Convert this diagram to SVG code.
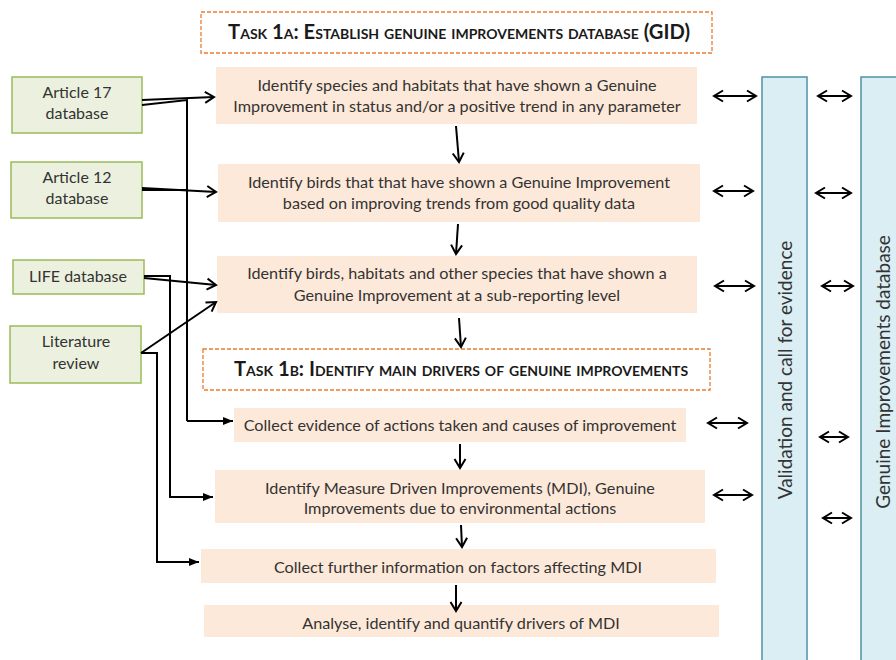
<svg xmlns="http://www.w3.org/2000/svg" width="896" height="660" viewBox="0 0 896 660">
<style>
.bg{fill:#ffffff}
.task{fill:#ffffff;stroke:#ec7c30;stroke-width:1.3;stroke-dasharray:4 2}
.step{fill:#fde9d9;stroke:none}
.src{fill:#ebf1de;stroke:#9bbb59;stroke-width:1.5}
.bar{fill:#daeef3;stroke:#4f93a6;stroke-width:1.5}
.t{font-family:Lato,"Liberation Sans",sans-serif;font-size:16.2px;fill:#333333;text-anchor:middle}
.ts{font-family:Lato,"Liberation Sans",sans-serif;font-size:16px;fill:#333333;text-anchor:middle}
.th{font-family:Lato,"Liberation Sans",sans-serif;font-size:20.2px;font-weight:bold;font-variant:small-caps;fill:#1a1a1a;text-anchor:middle}
.tr{font-family:Lato,"Liberation Sans",sans-serif;font-size:19px;fill:#333333;text-anchor:middle}
.c{fill:none;stroke:#000000;stroke-width:2}
.o{marker-end:url(#open)}
.f{marker-end:url(#fill)}
.d{marker-start:url(#open);marker-end:url(#open)}
</style>
<defs>
<marker id="open" markerUnits="userSpaceOnUse" markerWidth="14" markerHeight="14" viewBox="0 0 14 14" refX="12" refY="7" orient="auto-start-reverse">
<path d="M3,1.5 L12,7 L3,12.5" fill="none" stroke="#000" stroke-width="2"/>
</marker>
<marker id="fill" markerUnits="userSpaceOnUse" markerWidth="12" markerHeight="12" viewBox="0 0 12 12" refX="11" refY="6" orient="auto">
<path d="M1,2 L11,6 L1,10 z" fill="#000"/>
</marker>
</defs>
<rect class="bg" x="0" y="0" width="896" height="660"/>

<g id="task1a">
<rect class="task" x="201" y="12" width="511" height="41"/>
<text class="th" x="459" y="39">Task 1a: Establish genuine improvements database (GID)</text>
</g>
<g id="step1">
<rect class="step" x="216" y="67" width="481" height="57"/>
<text class="t" x="457" y="91">Identify species and habitats that have shown a Genuine</text>
<text class="t" x="457" y="112">Improvement in status and/or a positive trend in any parameter</text>
</g>
<g id="step2">
<rect class="step" x="218" y="164" width="482" height="58"/>
<text class="t" x="459" y="188">Identify birds that that have shown a Genuine Improvement</text>
<text class="t" x="459" y="209">based on improving trends from good quality data</text>
</g>
<g id="step3">
<rect class="step" x="217" y="256" width="480" height="57"/>
<text class="t" x="457" y="279">Identify birds, habitats and other species that have shown a</text>
<text class="t" x="457" y="301">Genuine Improvement at a sub-reporting level</text>
</g>
<g id="task1b">
<rect class="task" x="203" y="349" width="507" height="41"/>
<text class="th" x="461" y="376">Task 1b: Identify main drivers of genuine improvements</text>
</g>
<g id="step4">
<rect class="step" x="234" y="408" width="452" height="34"/>
<text class="t" x="460" y="431">Collect evidence of actions taken and causes of improvement</text>
</g>
<g id="step5">
<rect class="step" x="215" y="470" width="490" height="53"/>
<text class="t" x="460" y="494">Identify Measure Driven Improvements (MDI), Genuine</text>
<text class="t" x="460" y="514">Improvements due to environmental actions</text>
</g>
<g id="step6">
<rect class="step" x="201" y="549" width="515" height="34"/>
<text class="t" x="458" y="573">Collect further information on factors affecting MDI</text>
</g>
<g id="step7">
<rect class="step" x="204" y="605" width="515" height="32"/>
<text class="t" x="461" y="629">Analyse, identify and quantify drivers of MDI</text>
</g>

<g id="art17">
<rect class="src" x="12" y="77" width="130" height="56"/>
<text class="ts" x="77" y="98">Article 17</text>
<text class="ts" x="77" y="119">database</text>
</g>
<g id="art12">
<rect class="src" x="11" y="162" width="131" height="56"/>
<text class="ts" x="77" y="183">Article 12</text>
<text class="ts" x="77" y="204">database</text>
</g>
<g id="life">
<rect class="src" x="13" y="260" width="131" height="34"/>
<text class="ts" x="78" y="282">LIFE database</text>
</g>
<g id="lit">
<rect class="src" x="10" y="326" width="131" height="57"/>
<text class="ts" x="76" y="347">Literature</text>
<text class="ts" x="76" y="369">review</text>
</g>

<g id="validation">
<rect class="bar" x="762" y="77" width="45" height="590"/>
<text class="tr" transform="translate(792,370) rotate(-90)">Validation and call for evidence</text>
</g>
<g id="gid">
<rect class="bar" x="861" y="77" width="45" height="590"/>
<text class="tr" transform="translate(890,372) rotate(-90)">Genuine Improvements database</text>
</g>

<g id="connectors">
<path class="c o" d="M142,100 L214,97"/>
<path class="c" d="M142,105 L187,100 L187,421"/>
<path class="c f" d="M187,421 L233,421"/>
<path class="c o" d="M142,188 L216,192"/>
<path class="c" d="M142,190 L187,190"/>
<path class="c o" d="M144,278 L216,285"/>
<path class="c f" d="M144,276 L170,276 L170,497 L213,497"/>
<path class="c o" d="M141,353 L216,302"/>
<path class="c f" d="M141,353 L157,353 L157,562 L199,562"/>

<path class="c o" d="M456,126 L459,162"/>
<path class="c o" d="M458,224 L456,254"/>
<path class="c o" d="M459,318 L461,347"/>
<path class="c o" d="M460,444 L460,468"/>
<path class="c o" d="M461,525 L462,547"/>
<path class="c o" d="M456,585 L456,611"/>

<path class="c d" d="M714,96 L756,96"/>
<path class="c d" d="M714,191 L753,191"/>
<path class="c d" d="M715,286 L754,286"/>
<path class="c d" d="M708,423 L747,423"/>
<path class="c d" d="M714,495 L752,495"/>

<path class="c d" d="M818,96 L851,96"/>
<path class="c d" d="M816,193 L851,193"/>
<path class="c d" d="M822,286 L853,286"/>
<path class="c d" d="M820,437 L848,437"/>
<path class="c d" d="M823,518 L851,518"/>
</g>
</svg>
